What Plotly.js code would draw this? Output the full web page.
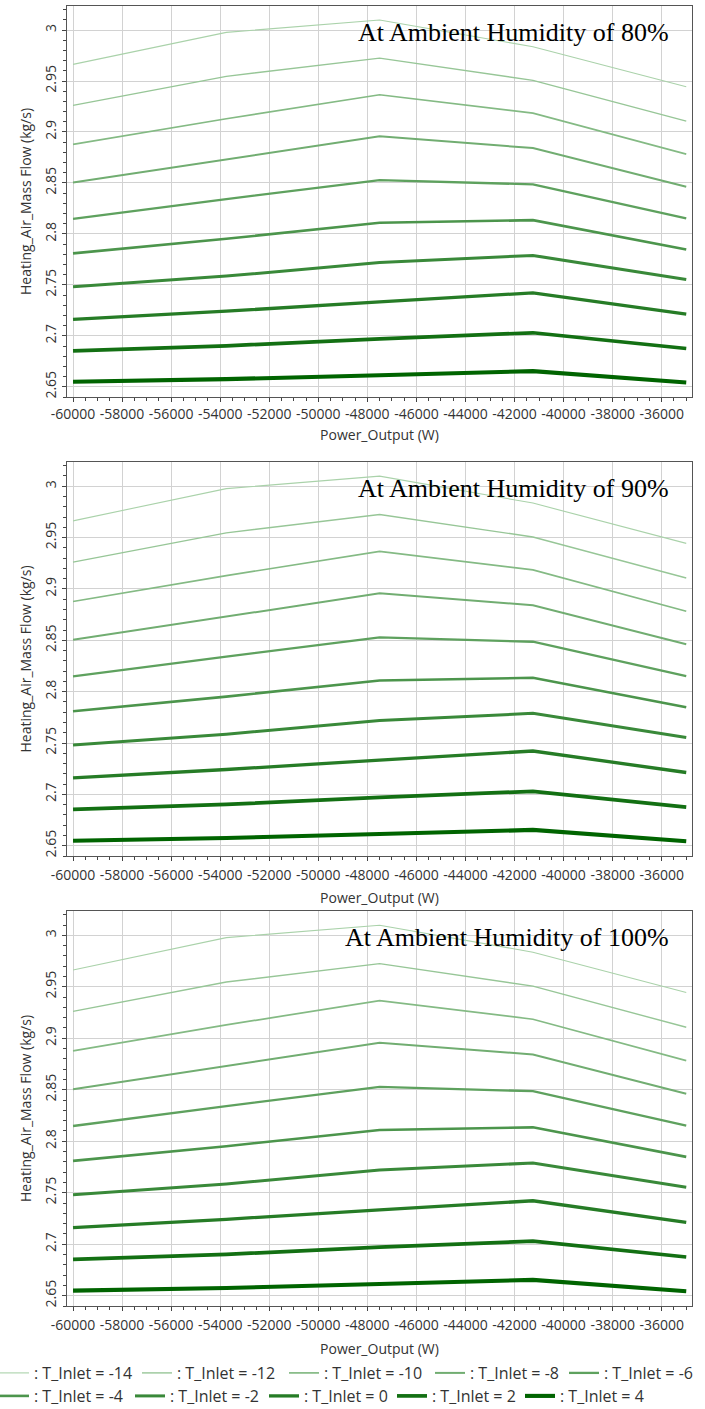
<!DOCTYPE html>
<html>
<head>
<meta charset="utf-8">
<script src="https://cdn.plot.ly/plotly-3.0.1.min.js"></script>
<style>html,body{margin:0;padding:0;background:#fff;}</style>
</head>
<body>
<div id="chart" style="width:705px;height:1409px;"></div>
<script>
// ---- data ----
const powerOutput = [-60000, -53750, -47500, -41250, -35000];
const tInlet = [-14, -12, -10, -8, -6, -4, -2, 0, 2, 4];
const flowTm14 = [2.9663, 2.9977, 3.0098, 2.9836, 2.9444];
const flowTm12 = [2.9261, 2.9546, 2.9725, 2.9506, 2.9107];
const flowTm10 = [2.8878, 2.9130, 2.9365, 2.9185, 2.8783];
const flowTm8  = [2.8505, 2.8731, 2.8957, 2.8842, 2.8462];
const flowTm6  = [2.8148, 2.8342, 2.8528, 2.8486, 2.8152];
const flowTm4  = [2.7809, 2.7952, 2.8109, 2.8135, 2.7848];
const flowTm2  = [2.7481, 2.7586, 2.7720, 2.7789, 2.7553];
const flowT0   = [2.7161, 2.7242, 2.7334, 2.7422, 2.7213];
const flowT2   = [2.6853, 2.6902, 2.6971, 2.7030, 2.6876];
const flowT4   = [2.6549, 2.6575, 2.6614, 2.6654, 2.6543];
// the three humidity panels show the same curves
const humidityLevels = ['80%', '90%', '100%'];
const xTickVals = [-60000, -58000, -56000, -54000, -52000, -50000, -48000, -46000, -44000, -42000, -40000, -38000, -36000];
const xTickText = ['-60000', '-58000', '-56000', '-54000', '-52000', '-50000', '-48000', '-46000', '-44000', '-42000', '-40000', '-38000', '-36000'];

const seriesFlows = [flowTm14, flowTm12, flowTm10, flowTm8, flowTm6, flowTm4, flowTm2, flowT0, flowT2, flowT4];

// ---- styles ----
const lineColors = [];
const lineWidths = [1.1, 1.4, 1.7, 2, 2.3, 2.6, 3, 3.3, 3.7, 4.1];
for (let i = 0; i < 10; i++) {
  const f = i / 9;
  const r = Math.round(170 - f * 170), g = Math.round(210 - f * 110), b = Math.round(170 - f * 170);
  lineColors.push('rgb(' + r + ',' + g + ',' + b + ')');
}
// legend groups (row/column blocks) and per-entry widths in px
const legendOfEntry = ['legend', 'legend', 'legend', 'legend3', 'legend3', 'legend2', 'legend2', 'legend2', 'legend4', 'legend4'];
const legendEntryPx = [143, 147, 146, 134, 140, 136, 134, 128, 128, 140];

const H = 1349; // plot-area height (margin bottom for legend)
const panelDomains = [[952 / H, 1343 / H], [493 / H, 887 / H], [43 / H, 438 / H]];
const xDomain = [67 / 705, 692 / 705];
const xRange = [-60245, -34765];
const yRange = [2.64, 3.0236];
const FONT = 'Open Sans, Noto Sans, sans-serif';
const TXT = '#333';

function legendBox(xpx, ypx) {
  return {
    orientation: 'h', x: xpx / 705, xanchor: 'left', y: (H - ypx) / H, yanchor: 'middle',
    entrywidthmode: 'fraction', font: {size: 16, color: TXT, family: FONT},
    bgcolor: 'rgba(0,0,0,0)', borderwidth: 0, itemwidth: 30
  };
}

const traces = [];
const layout = {
  width: 705, height: 1409,
  margin: {l: 0, r: 0, t: 0, b: 1409 - H, autoexpand: false},
  paper_bgcolor: '#fff', plot_bgcolor: '#fff',
  font: {family: FONT, size: 14, color: TXT},
  showlegend: true,
  annotations: [],
  legend: legendBox(-6, 1373),
  legend3: legendBox(-6 + 143 + 147 + 146, 1373),
  legend2: legendBox(-6, 1396),
  legend4: legendBox(-6 + 136 + 134 + 128, 1396)
};

const titleStandoff = [8, 10, 11];

humidityLevels.forEach((hum, p) => {
  const sfx = p === 0 ? '' : String(p + 1);
  seriesFlows.forEach((vals, i) => {
    traces.push({
      type: 'scatter', mode: 'lines',
      x: powerOutput, y: vals,
      xaxis: 'x' + sfx, yaxis: 'y' + sfx,
      name: ': T_Inlet = ' + tInlet[i],
      line: {color: lineColors[i], width: lineWidths[i]},
      showlegend: p === 0,
      legend: legendOfEntry[i],
      legendwidth: legendEntryPx[i] / 705,
      hoverinfo: 'x+y+name'
    });
  });
  layout['xaxis' + sfx] = {
    domain: xDomain, range: xRange, anchor: 'y' + sfx,
    tickmode: 'array', tickvals: xTickVals, ticktext: xTickText, tickangle: 0,
    tickfont: {size: 14, color: TXT},
    ticks: 'outside', ticklen: 4, tickcolor: '#444',
    ticklabelstandoff: p === 0 ? 0 : 2,
    minor: {dtick: 500, tick0: -60000, ticks: 'outside', ticklen: 3, tickcolor: '#444', showgrid: false},
    showline: true, linecolor: '#555', linewidth: 1, mirror: true,
    showgrid: true, gridcolor: '#d2d2d2', gridwidth: 1, zeroline: false,
    automargin: false,
    title: {text: 'Power_Output (W)', font: {size: 14, color: TXT}, standoff: titleStandoff[p]}
  };
  layout['yaxis' + sfx] = {
    domain: panelDomains[p], range: yRange, anchor: 'x' + sfx,
    tickmode: 'linear', tick0: 2.65, dtick: 0.05, tickangle: -90,
    tickfont: {size: 14, color: TXT},
    ticks: 'outside', ticklen: 4, tickcolor: '#444',
    minor: {dtick: 0.01, tick0: 2.65, ticks: 'outside', ticklen: 3, tickcolor: '#444', showgrid: false},
    showline: true, linecolor: '#555', linewidth: 1, mirror: true,
    showgrid: true, gridcolor: '#d2d2d2', gridwidth: 1, zeroline: false,
    automargin: false,
    title: {text: 'Heating_Air_Mass Flow (kg/s)', font: {size: 14, color: TXT}, standoff: 6}
  };
  layout.annotations.push({
    xref: 'paper', yref: 'paper', x: 671 / 705, y: panelDomains[p][1],
    xanchor: 'right', yanchor: 'top', yshift: -10,
    text: 'At Ambient Humidity of ' + hum, showarrow: false,
    font: {family: 'Liberation Serif, Times New Roman, serif', size: 26, color: '#000'}
  });
});

Plotly.newPlot('chart', traces, layout, {displayModeBar: false, staticPlot: true});
</script>
</body>
</html>
